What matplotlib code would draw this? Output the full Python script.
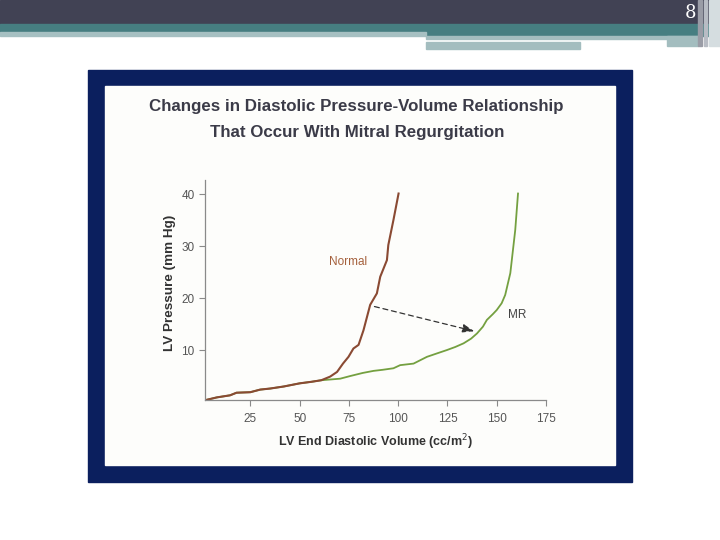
import matplotlib.pyplot as plt
from matplotlib.patches import Rectangle

# curve data (volume cc/m2, pressure mm Hg)
normal_volume = [2.5, 8, 14.7, 18, 25, 30, 35, 42, 50, 56, 61, 65.5, 69, 72,
                 74.8, 77.3, 79.9, 82.4, 85.8, 89.2, 90.9, 94.3, 95, 97.6, 100.2]
normal_pressure = [0.4, 0.9, 1.3, 1.8, 1.9, 2.4, 2.6, 3.0, 3.6, 3.9, 4.2, 4.9,
                   5.8, 7.4, 8.7, 10.3, 11.0, 13.8, 18.7, 20.9, 24.1, 27.3,
                   30.2, 35.0, 40.1]

mr_volume = [2.5, 8, 14.7, 18, 25, 30, 35, 42, 50, 56, 61, 70.6, 75.6, 82,
             87.5, 92, 97.6, 101, 107.8, 114.6, 120, 124.7, 129, 133.2, 137,
             140, 143, 145, 148, 150, 152.5, 154.3, 156.9, 159.4, 160.8]
mr_pressure = [0.4, 0.9, 1.3, 1.8, 1.9, 2.4, 2.6, 3.0, 3.6, 3.9, 4.2, 4.5,
               5.0, 5.6, 6.0, 6.2, 6.5, 7.1, 7.4, 8.7, 9.4, 10.0, 10.6, 11.3,
               12.2, 13.2, 14.5, 15.8, 16.9, 17.7, 19.0, 20.6, 24.8, 33.1, 40.1]

shift_start = (86.6, 18.5)
shift_end = (140, 13.5)

x_ticks = [25, 50, 75, 100, 125, 150, 175]
y_ticks = [10, 20, 30, 40]

title_lines = ["Changes in Diastolic Pressure-Volume Relationship",
               "That Occur With Mitral Regurgitation"]
page_number = "8"

TEXT_DARK = "#3b3b48"
NORMAL_COLOR = "#8a4a33"
MR_COLOR = "#74a040"

fig = plt.figure(figsize=(7.2, 5.4), dpi=100)

# slide background drawn in pixel coordinates
bg = fig.add_axes([0, 0, 1, 1])
bg.set_xlim(0, 720)
bg.set_ylim(540, 0)
bg.axis("off")

bg.add_patch(Rectangle((0, 0), 720, 24, color="#414254"))
bg.add_patch(Rectangle((0, 24), 720, 8, color="#467e81"))
bg.add_patch(Rectangle((426, 32), 294, 4, color="#467e81"))
bg.add_patch(Rectangle((0, 32), 426, 4, color="#a6c0c2"))
bg.add_patch(Rectangle((426, 36), 272, 3, color="#a3bdbf"))
bg.add_patch(Rectangle((667, 36), 31, 10, color="#a3bdbf"))
bg.add_patch(Rectangle((426, 41.7), 154, 7, color="#a3bdbf"))
bg.add_patch(Rectangle((698, 0), 4, 46, color="#9a9ca6"))
bg.add_patch(Rectangle((704, 0), 3, 46, color="#b8bcc4"))
bg.add_patch(Rectangle((709, 0), 11, 46, color="#d5dde0"))
bg.text(690, 13, page_number, color="white", fontsize=13,
        family="DejaVu Serif", ha="center", va="center")

# scanned picture frame
bg.add_patch(Rectangle((88, 70), 544, 412, color="#0b1f5e"))
bg.add_patch(Rectangle((105, 86), 510, 379, color="#fdfdfb"))

bg.text(356, 107, title_lines[0], color=TEXT_DARK, fontsize=12.2,
        fontweight="bold", family="Liberation Sans", ha="center", va="center")
bg.text(357, 133, title_lines[1], color=TEXT_DARK, fontsize=12.2,
        fontweight="bold", family="Liberation Sans", ha="center", va="center")

# the chart itself
ax = fig.add_axes([205 / 720, 1 - 400 / 540, 341 / 720, 220 / 540])
ax.patch.set_alpha(0)
ax.plot(mr_volume, mr_pressure, color=MR_COLOR, lw=1.3)
ax.plot(normal_volume, normal_pressure, color=NORMAL_COLOR, lw=1.5)

ax.annotate("", xy=shift_end, xytext=shift_start,
            arrowprops=dict(arrowstyle="-|>,head_length=0.7,head_width=0.25",
                            linestyle=(0, (4, 3)), color="#333333", lw=0.9))

ax.text(74.6, 26.9, "Normal", color="#a5603c", fontsize=8.5,
        family="Liberation Sans", ha="center", va="center")
ax.text(160.4, 16.7, "MR", color="#444444", fontsize=8.5,
        family="Liberation Sans", ha="center", va="center")

ax.set_xlim(2, 175)
ax.set_ylim(0.4, 42.7)
ax.set_xticks(x_ticks)
ax.set_yticks(y_ticks)
for side in ["top", "right"]:
    ax.spines[side].set_visible(False)
for side in ["left", "bottom"]:
    ax.spines[side].set_color("#8a8a8a")
    ax.spines[side].set_linewidth(0.9)
ax.tick_params(colors="#8a8a8a", labelcolor="#555555", length=4, width=0.8,
               labelsize=8.5)
ax.tick_params(axis="x", pad=5)
for label in ax.get_xticklabels() + ax.get_yticklabels():
    label.set_family("Liberation Sans")

ax.set_xlabel("LV End Diastolic Volume (cc/m$^2$)", color="#333333",
              fontsize=9, fontweight="bold", family="Liberation Sans",
              labelpad=6)
ax.set_ylabel("LV Pressure (mm Hg)", color="#333333", fontsize=9.7,
              fontweight="bold", family="Liberation Sans")
ax.yaxis.set_label_coords(-0.085, 0.532)

fig.savefig("out.png", dpi=100)
